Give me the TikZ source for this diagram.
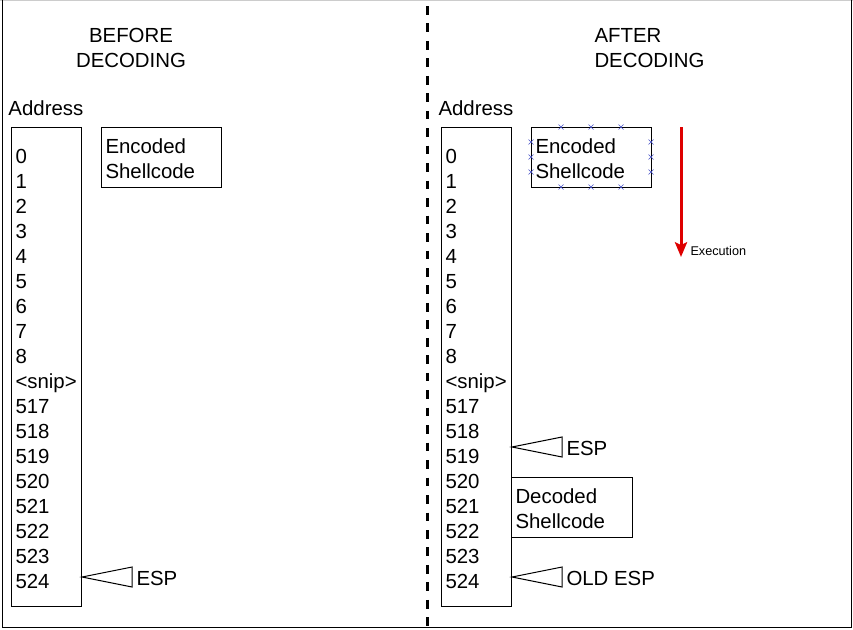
\documentclass[tikz,border=0pt]{standalone}
\usepackage{fontspec}
\setmainfont{Liberation Sans}
\usetikzlibrary{arrows.meta}
\definecolor{execred}{RGB}{222,0,0}
\definecolor{handleblue}{RGB}{70,80,200}

\begin{document}
\begin{tikzpicture}[x=0.75pt,y=-0.75pt,line width=0.75pt,
  big text/.style={font=\fontsize{15.3}{18.75}\selectfont,inner sep=0pt},
  addr text/.style={big text,anchor=west,text height=10.9pt,text depth=0pt},
  title text/.style={big text,align=center},
  mem box/.style={draw,line width=0.75pt},
  esp mark/.style={draw,line width=0.75pt},
  handle/.style={draw=handleblue,line width=0.5pt}]

  \useasboundingbox (0,0) rectangle (853,629);

  % frame and separator
  \draw[black!20] (0,0.5) -- (853,0.5);
  \draw (2,0) -- (2,627) -- (851,627) -- (851,0);
  \draw[line width=2.25pt,dash pattern=on 6.5pt off 6.6pt] (427,6) -- (427,627);

  % before decoding
  \node[title text] (BTITLE) at (131,48) {BEFORE\\DECODING};
  \node[addr text] (BADDR) at (8,108) {Address};
  \draw[mem box] (11,127) rectangle (81,606);
  \foreach \addr [count=\k from 0] in {0,1,2,3,4,5,6,7,8,{<snip>},517,518,519,520,521,522,523,524}
    \node[addr text] (BA\k) at (15,{156+25*\k}) {\addr};
  \node[mem box,minimum width=90pt,minimum height=45pt,inner sep=0pt] (BENC) at (161,157) {};
  \node[big text,align=left,anchor=west] (BENCT) at (105,158.5) {Encoded\\Shellcode};
  \coordinate (BESP) at (82,577);
  \draw[esp mark] (BESP) -- ++(50,-10) -- ++(0,20) -- cycle;
  \node[addr text] (BESPT) at (136,578) {ESP};

  % after decoding
  \node[big text,align=left,anchor=west] (ATITLE) at (594,48.5) {AFTER\\DECODING};
  \node[addr text] (AADDR) at (438,108) {Address};
  \draw[mem box] (441,127) rectangle (511,606);
  \foreach \addr [count=\k from 0] in {0,1,2,3,4,5,6,7,8,{<snip>},517,518,519,520,521,522,523,524}
    \node[addr text] (AA\k) at (445,{156+25*\k}) {\addr};
  \node[mem box,minimum width=90pt,minimum height=45pt,inner sep=0pt] (AENC) at (591,157) {};
  \node[big text,align=left,anchor=west] (AENCT) at (535,158.5) {Encoded\\Shellcode};
  \foreach \hx in {561,591,621} {
    \draw[handle] (\hx-2.5,124.5) -- (\hx+2.5,129.5) (\hx-2.5,129.5) -- (\hx+2.5,124.5);
    \draw[handle] (\hx-2.5,184.5) -- (\hx+2.5,189.5) (\hx-2.5,189.5) -- (\hx+2.5,184.5);
  }
  \foreach \hy in {142,157,172} {
    \draw[handle] (528.5,\hy-2.5) -- (533.5,\hy+2.5) (528.5,\hy+2.5) -- (533.5,\hy-2.5);
    \draw[handle] (648.5,\hy-2.5) -- (653.5,\hy+2.5) (648.5,\hy+2.5) -- (653.5,\hy-2.5);
  }
  \node[mem box,minimum width=90.75pt,minimum height=45pt,inner sep=0pt] (ADEC) at (571.5,507) {};
  \node[big text,align=left,anchor=west] (ADECT) at (515,508.5) {Decoded\\Shellcode};
  \coordinate (AESP) at (512,447);
  \draw[esp mark] (AESP) -- ++(50,-10) -- ++(0,20) -- cycle;
  \node[addr text] (AESPT) at (566,448) {ESP};
  \coordinate (AOLD) at (512,577);
  \draw[esp mark] (AOLD) -- ++(50,-10) -- ++(0,20) -- cycle;
  \node[addr text] (AOLDT) at (566,578) {OLD ESP};

  % execution direction
  \coordinate (EXTOP) at (681,127);
  \coordinate (EXBOT) at (681,257);
  \draw[execred,line width=2.25pt,-{Stealth[length=11pt,width=9pt,inset=2pt]}] (EXTOP) -- (EXBOT);
  \node[font=\fontsize{9.5}{11}\selectfont,anchor=west,inner sep=0pt] (EXLBL) at (690,251) {Execution};
\end{tikzpicture}
\end{document}
